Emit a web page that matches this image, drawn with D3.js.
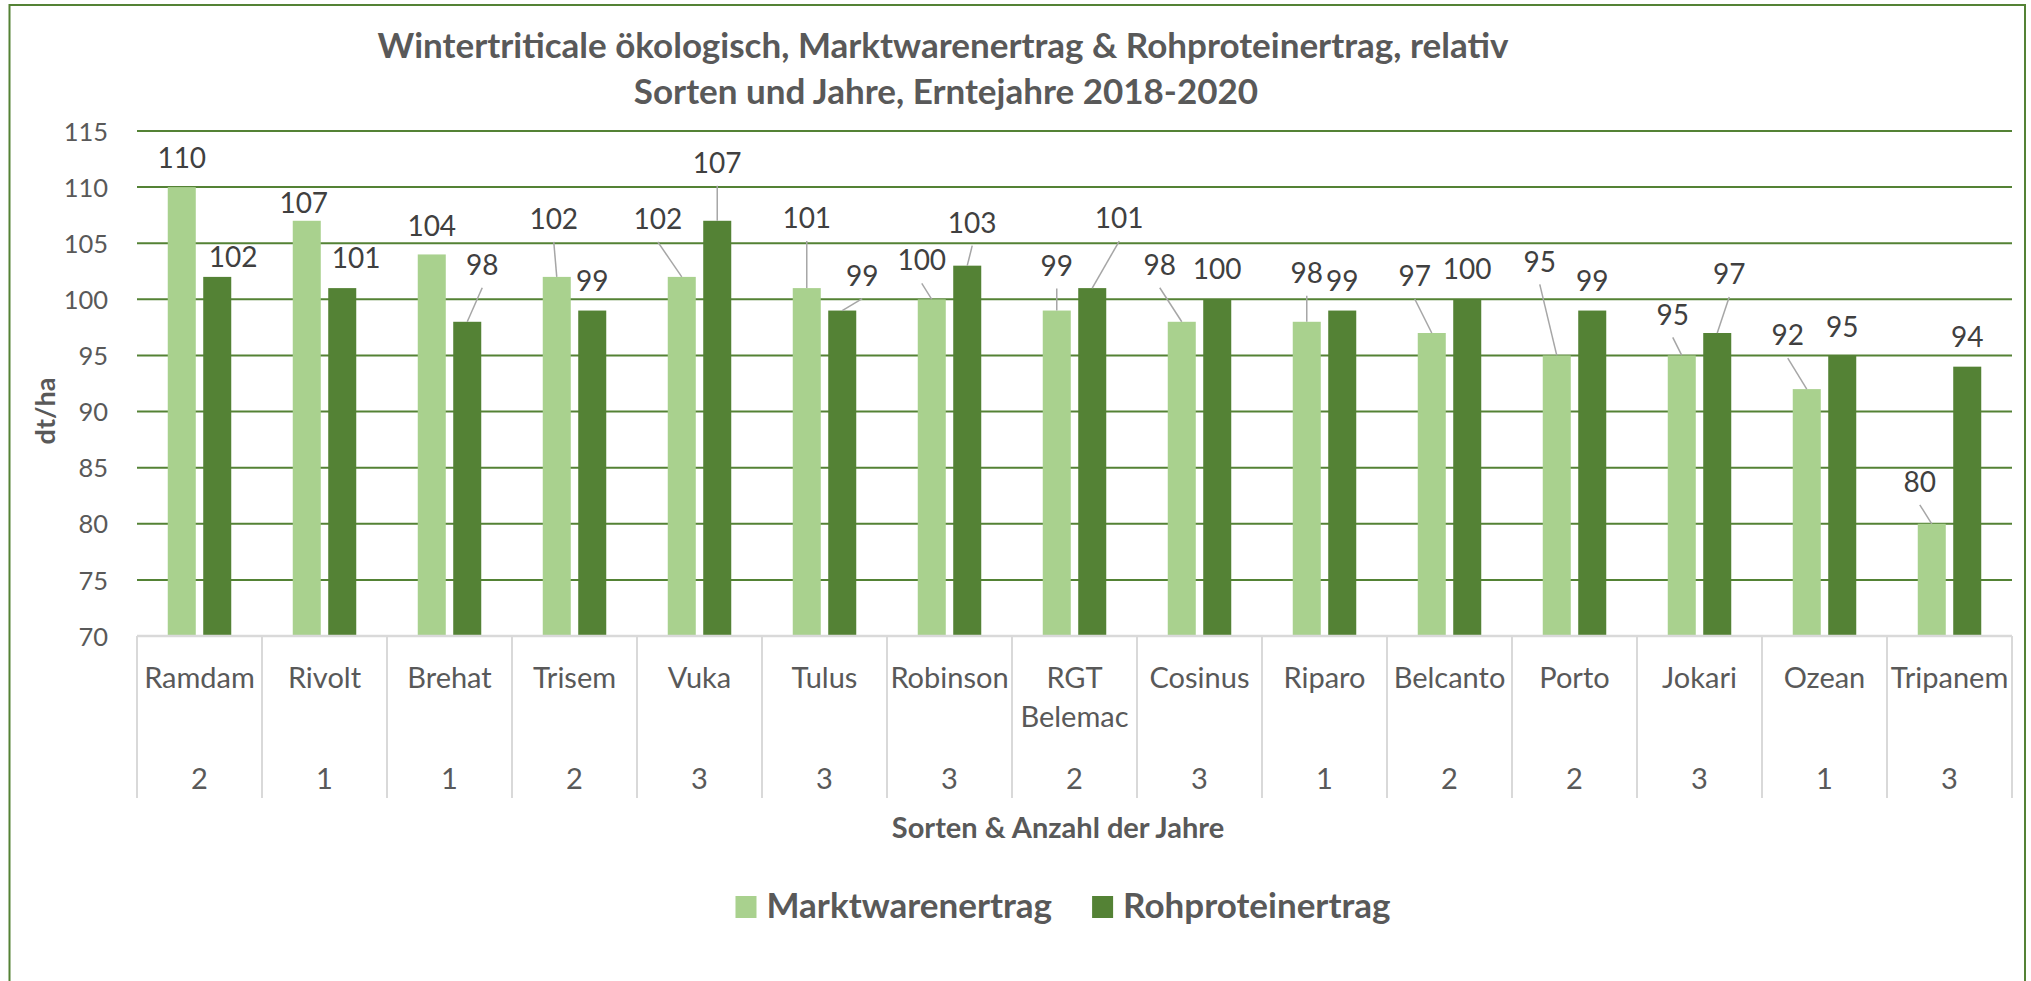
<!DOCTYPE html>
<html>
<head>
<meta charset="utf-8">
<script src="https://cdn.jsdelivr.net/npm/d3@7"></script>
<style>
  body { margin: 0; background: #fff; }
  svg { display: block; font-family: Lato, "Open Sans", sans-serif; }
  .tick text { fill: #595959; }
</style>
</head>
<body>
<div class="chart"></div>
<script>
const w = 2031;
const h = 981;

// data
const categories = ["Ramdam", "Rivolt", "Brehat", "Trisem", "Vuka", "Tulus", "Robinson", "RGT Belemac",
  "Cosinus", "Riparo", "Belcanto", "Porto", "Jokari", "Ozean", "Tripanem"];
const years = [2, 1, 1, 2, 3, 3, 3, 2, 3, 1, 2, 2, 3, 1, 3];
const marktwarenertrag = [110, 107, 104, 102, 102, 101, 100, 99, 98, 98, 97, 95, 95, 92, 80];
const rohproteinertrag = [102, 101, 98, 99, 107, 99, 103, 101, 100, 99, 100, 99, 97, 95, 94];
const seriesNames = ["Marktwarenertrag", "Rohproteinertrag"];
const yTicks = [70, 75, 80, 85, 90, 95, 100, 105, 110, 115];

// label placement (dx, dy from bar top in px, leader line yes/no) - layout only
const labelPosM = [[0,-29,0],[-3,-18,0],[0,-29,0],[-3,-58,1],[-24,-58,1],[0,-70,1],[-10,-39,1],[0,-45,1],
  [-22,-57,1],[0,-49,1],[-17,-57,1],[-17,-94,1],[-9,-41,1],[-19,-54,1],[-12,-42,1]];
const labelPosR = [[16,-20,0],[14,-30,0],[15,-57,1],[0,-30,0],[0,-58,1],[20,-35,1],[5,-43,1],[27,-70,1],
  [0,-30,0],[0,-30,0],[0,-30,0],[0,-30,0],[12,-59,1],[0,-29,0],[0,-30,0]];

const colors = ["#A9D18E", "#548235"];
const textCol = "#595959";

const plot = { left: 137, right: 2012, top: 131, bottom: 636 };

const svg = d3.select(".chart")
  .append("svg")
  .attr("width", w)
  .attr("height", h);

svg.append("rect")
  .attr("width", w).attr("height", h).attr("fill", "#fff");

// outer border (bottom edge is outside the picture)
svg.append("rect")
  .attr("x", 9.5).attr("y", 5)
  .attr("width", 2015.5).attr("height", 1000)
  .attr("fill", "none")
  .attr("stroke", "#548235")
  .attr("stroke-width", 2);

const x0 = d3.scaleBand()
  .domain(categories)
  .range([plot.left, plot.right])
  .paddingInner(0).paddingOuter(0);

const x1 = d3.scaleBand()
  .domain(seriesNames)
  .range([30.75, 94.25])
  .paddingInner(0.21);

const y = d3.scaleLinear()
  .domain([70, 115])
  .range([plot.bottom, plot.top]);

// gridlines
svg.append("g")
  .selectAll("line")
  .data(yTicks.filter(d => d > 70))
  .enter().append("line")
  .attr("x1", plot.left).attr("x2", plot.right)
  .attr("y1", d => y(d)).attr("y2", d => y(d))
  .attr("stroke", "#548235")
  .attr("stroke-width", 2);

// y axis labels
const yAxis = svg.append("g")
  .attr("transform", `translate(${plot.left},0)`)
  .call(d3.axisLeft(y).tickValues(yTicks).tickSize(0).tickPadding(29));
yAxis.select(".domain").remove();
yAxis.selectAll("text")
  .attr("font-size", "25.5px")
  .attr("font-family", "Lato")
  .attr("dy", "0.36em");

// bars
const table = categories.map((c, i) => ({
  cat: c, year: years[i],
  vals: [
    { key: seriesNames[0], v: marktwarenertrag[i], pos: labelPosM[i] },
    { key: seriesNames[1], v: rohproteinertrag[i], pos: labelPosR[i] }
  ]
}));

const groups = svg.append("g")
  .selectAll("g")
  .data(table)
  .enter().append("g")
  .attr("transform", d => `translate(${x0(d.cat)},0)`);

groups.selectAll("rect")
  .data(d => d.vals)
  .enter().append("rect")
  .attr("x", d => x1(d.key))
  .attr("width", x1.bandwidth())
  .attr("y", d => y(d.v))
  .attr("height", d => y(70) - y(d.v))
  .attr("fill", (d, i) => colors[i]);

// leader lines
groups.selectAll("line.leader")
  .data(d => d.vals.filter(v => v.pos[2]))
  .enter().append("line")
  .attr("class", "leader")
  .attr("x1", d => x1(d.key) + x1.bandwidth() / 2 + d.pos[0])
  .attr("y1", d => y(d.v) + d.pos[1] + 23)
  .attr("x2", d => x1(d.key) + x1.bandwidth() / 2)
  .attr("y2", d => y(d.v))
  .attr("stroke", "#A6A6A6")
  .attr("stroke-width", 1.5);

// data labels
groups.selectAll("text.val")
  .data(d => d.vals)
  .enter().append("text")
  .attr("class", "val")
  .attr("x", d => x1(d.key) + x1.bandwidth() / 2 + d.pos[0])
  .attr("y", d => y(d.v) + d.pos[1])
  .attr("dy", "0.36em")
  .attr("text-anchor", "middle")
  .attr("font-size", "28px")
  .attr("fill", "#404040")
  .text(d => d.v);

// category axis
svg.append("line")
  .attr("x1", plot.left).attr("x2", plot.right)
  .attr("y1", y(70)).attr("y2", y(70))
  .attr("stroke", "#D9D9D9").attr("stroke-width", 2.5);

svg.append("g")
  .selectAll("line")
  .data(categories.map(c => x0(c)).concat([plot.right]))
  .enter().append("line")
  .attr("x1", d => d).attr("x2", d => d)
  .attr("y1", y(70)).attr("y2", 798)
  .attr("stroke", "#D9D9D9").attr("stroke-width", 2);

const catText = svg.append("g")
  .selectAll("text")
  .data(categories)
  .enter().append("text")
  .attr("x", d => x0(d) + x0.bandwidth() / 2)
  .attr("y", 688)
  .attr("text-anchor", "middle")
  .attr("font-size", "29px")
  .attr("fill", textCol)
  .text(d => d);

// wrap names that don't fit into the band
catText.each(function(d) {
  const t = d3.select(this);
  if (this.getComputedTextLength() > x0.bandwidth() - 4 && d.includes(" ")) {
    const parts = d.split(" ");
    t.text(null);
    parts.forEach((p, i) => {
      t.append("tspan")
        .attr("x", x0(d) + x0.bandwidth() / 2)
        .attr("dy", i === 0 ? 0 : "1.34em")
        .text(p);
    });
  }
});

svg.append("g")
  .selectAll("text")
  .data(table)
  .enter().append("text")
  .attr("x", d => x0(d.cat) + x0.bandwidth() / 2)
  .attr("y", 789)
  .attr("text-anchor", "middle")
  .attr("font-size", "29px")
  .attr("fill", textCol)
  .text(d => d.year);

// axis titles
svg.append("text")
  .attr("x", 1058).attr("y", 838)
  .attr("text-anchor", "middle")
  .attr("font-size", "29px")
  .attr("font-weight", "bold")
  .attr("fill", textCol)
  .text("Sorten & Anzahl der Jahre");

svg.append("text")
  .attr("transform", "translate(55,411) rotate(-90)")
  .attr("text-anchor", "middle")
  .attr("font-size", "27px")
  .attr("font-weight", "bold")
  .attr("fill", textCol)
  .text("dt/ha");

// title
const title = svg.append("text")
  .attr("text-anchor", "middle")
  .attr("font-size", "35px")
  .attr("font-weight", "bold")
  .attr("fill", textCol);
title.append("tspan").attr("x", 943).attr("y", 58)
  .text("Wintertriticale ökologisch, Marktwarenertrag & Rohproteinertrag, relativ");
title.append("tspan").attr("x", 946).attr("y", 104)
  .text("Sorten und Jahre, Erntejahre 2018-2020");

// legend
const legend = svg.append("g");
let lx = 0;
seriesNames.forEach((s, i) => {
  legend.append("rect")
    .attr("x", lx).attr("y", -22)
    .attr("width", 21).attr("height", 22)
    .attr("fill", colors[i]);
  const t = legend.append("text")
    .attr("x", lx + 31).attr("y", 0)
    .attr("font-size", "35px")
    .attr("font-weight", "bold")
    .attr("fill", textCol)
    .text(s);
  lx += 31 + t.node().getComputedTextLength() + 40;
});
const legendW = lx - 40;
legend.attr("transform", `translate(${1063 - legendW / 2},918)`);
</script>
</body>
</html>
